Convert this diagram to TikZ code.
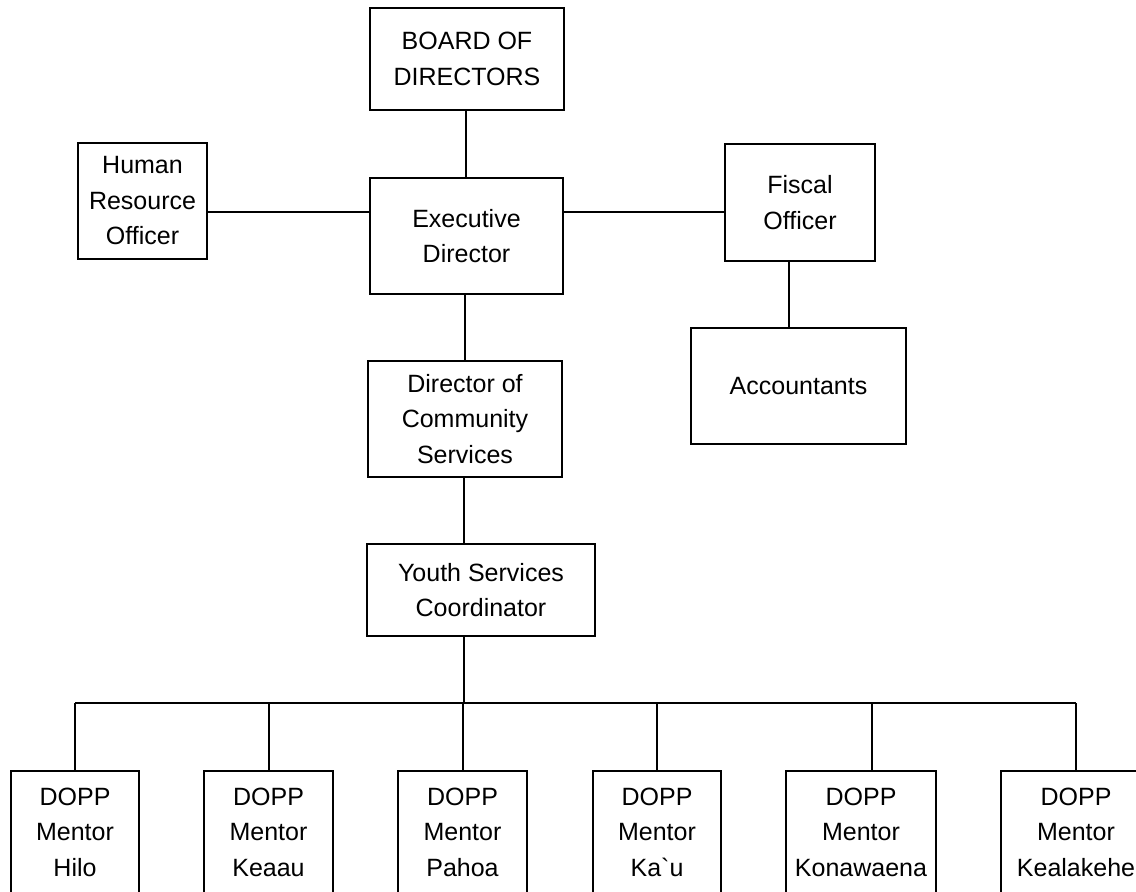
\documentclass[tikz,border=0pt]{standalone}
\usepackage{fontspec}
\setmainfont{Liberation Sans}[Ligatures=TeXOff]
\begin{document}
\begin{tikzpicture}[x=1pt,y=-1pt,
  box/.style={draw=black, line width=2.6pt, fill=white, rectangle, inner sep=0pt, align=center,
    font=\fontsize{25}{35.5}\selectfont},
  conn/.style={draw=black, line width=2pt}]
\useasboundingbox (0,0) rectangle (1136,892);
\clip (0,0) rectangle (1136,892);
\fill[white] (0,0) rectangle (1136,892);
% connectors first
\coordinate (busL) at (75,703);
\coordinate (busR) at (1076,703);
\coordinate (busC) at (464,703);
% nodes
\node[box, minimum width=194pt, minimum height=102pt] (board) at (467,59) {BOARD OF\\DIRECTORS};
\node[box, minimum width=129pt, minimum height=116pt] (hr) at (142.5,201) {Human\\Resource\\Officer};
\node[box, minimum width=193pt, minimum height=116pt] (exec) at (466.5,236) {Executive\\Director};
\node[box, minimum width=150pt, minimum height=117pt] (fiscal) at (800,202.5) {Fiscal\\Officer};
\node[box, minimum width=215pt, minimum height=116pt] (acct) at (798.5,386) {Accountants};
\node[box, minimum width=194pt, minimum height=116pt] (dcs) at (465,419) {Director of\\Community\\Services};
\node[box, minimum width=228pt, minimum height=92pt] (ysc) at (481,590) {Youth Services\\Coordinator};
\node[box, minimum width=128pt, minimum height=122pt] (m1) at (75,832) {DOPP\\Mentor\\Hilo};
\node[box, minimum width=129pt, minimum height=122pt] (m2) at (268.5,832) {DOPP\\Mentor\\Keaau};
\node[box, minimum width=129pt, minimum height=122pt] (m3) at (462.5,832) {DOPP\\Mentor\\Pahoa};
\node[box, minimum width=128pt, minimum height=122pt] (m4) at (657,832) {DOPP\\Mentor\\Ka`u};
\node[box, minimum width=150pt, minimum height=122pt] (m5) at (861,832) {DOPP\\Mentor\\Konawaena};
\node[box, minimum width=150pt, minimum height=122pt] (m6) at (1076,832) {DOPP\\Mentor\\Kealakehe};
% connectors
\draw[conn] (board.south -| 466,0) -- (exec.north -| 466,0);
\draw[conn] (hr.east |- 0,212) -- (exec.west |- 0,212);
\draw[conn] (exec.east |- 0,212) -- (fiscal.west |- 0,212);
\draw[conn] (fiscal.south -| 789,0) -- (acct.north -| 789,0);
\draw[conn] (exec.south -| 465,0) -- (dcs.north -| 465,0);
\draw[conn] (dcs.south -| 464,0) -- (ysc.north -| 464,0);
\draw[conn] (ysc.south -| busC) -- (busC);
\draw[conn] (busL) -- (busR);
\draw[conn] (busL) -- (m1.north);
\draw[conn] (busL -| m2) -- (m2.north);
\draw[conn] (busL -| m3) -- (m3.north);
\draw[conn] (busL -| m4) -- (m4.north);
\draw[conn] (busL -| 872,0) -- (m5.north -| 872,0);
\draw[conn] (busR) -- (m6.north);
\end{tikzpicture}
\end{document}
